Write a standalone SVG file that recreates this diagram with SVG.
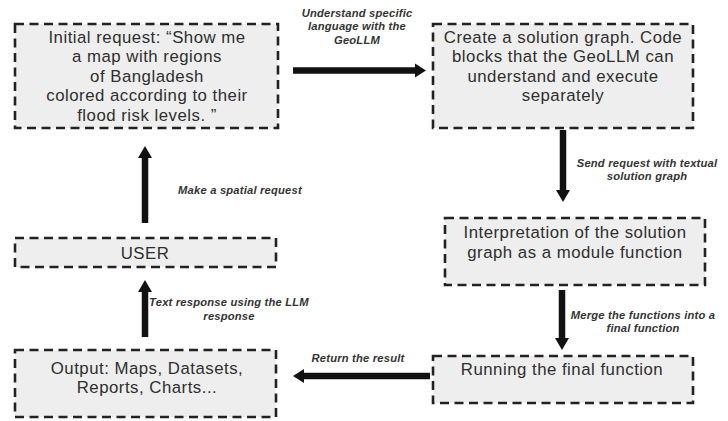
<svg xmlns="http://www.w3.org/2000/svg" width="728" height="421" viewBox="0 0 728 421">
<defs>
<style>
.box{fill:#eeeeee;stroke:#222;stroke-width:2.6;stroke-dasharray:9 5.5}
.t{font-family:"Liberation Sans",Arial,sans-serif;font-size:16.8px;letter-spacing:0.5px;fill:#2e2e2e;text-anchor:middle;dominant-baseline:central}
.l{font-family:"Liberation Sans",Arial,sans-serif;font-size:11.2px;letter-spacing:0.2px;font-style:italic;font-weight:bold;fill:#333;text-anchor:middle;dominant-baseline:central}
.c{stroke:#111;stroke-width:6.5;fill:none}
.h{fill:#111}
</style>
</defs>
<rect width="728" height="421" fill="#ffffff"/>
<g id="n1">
<rect class="box" x="15" y="24" width="263" height="104"/>
<text class="t" x="147" y="37">Initial request: “Show me</text>
<text class="t" x="147" y="56.5">a map with regions</text>
<text class="t" x="147" y="76">of Bangladesh</text>
<text class="t" x="147" y="95.5">colored according to their</text>
<text class="t" x="147" y="115">flood risk levels. ”</text>
</g>
<g id="n2">
<rect class="box" x="433" y="24" width="260" height="104"/>
<text class="t" x="563" y="37">Create a solution graph. Code</text>
<text class="t" x="563" y="56.5">blocks that the GeoLLM can</text>
<text class="t" x="563" y="76">understand and execute</text>
<text class="t" x="563" y="95.5">separately</text>
</g>
<g id="n3">
<rect class="box" x="445" y="218" width="260" height="67"/>
<text class="t" x="575" y="232">Interpretation of the solution</text>
<text class="t" x="575" y="252">graph as a module function</text>
</g>
<g id="n4">
<rect class="box" x="433" y="356" width="260" height="47"/>
<text class="t" x="562" y="369">Running the final function</text>
</g>
<g id="n5">
<rect class="box" x="15" y="350" width="261" height="67"/>
<text class="t" x="147" y="368">Output: Maps, Datasets,</text>
<text class="t" x="147" y="387.5">Reports, Charts...</text>
</g>
<g id="user">
<rect class="box" x="15" y="238" width="261" height="29"/>
<text class="t" x="145" y="253">USER</text>
</g>
<g id="connectors">
<line class="c" x1="293" y1="70.5" x2="417" y2="70.5"/>
<polygon class="h" points="415,63.5 426,70.5 415,77.5"/>
<line class="c" x1="563" y1="130" x2="563" y2="192"/>
<polygon class="h" points="556,190 570,190 563,202"/>
<line class="c" x1="562" y1="290" x2="562" y2="340"/>
<polygon class="h" points="555,338 569,338 562,350"/>
<line class="c" x1="430" y1="376" x2="302" y2="376"/>
<polygon class="h" points="304,369 304,383 293,376"/>
<line class="c" x1="145" y1="337" x2="145" y2="290"/>
<polygon class="h" points="138,292 152,292 145,280"/>
<line class="c" x1="145" y1="223" x2="145" y2="156"/>
<polygon class="h" points="138,158 152,158 145,146"/>
<text class="l" x="357" y="12.5">Understand specific</text>
<text class="l" x="357" y="26">language with the</text>
<text class="l" x="357" y="39.5">GeoLLM</text>
<text class="l" x="647" y="162.5">Send request with textual</text>
<text class="l" x="647" y="176">solution graph</text>
<text class="l" x="643" y="314.5">Merge the functions into a</text>
<text class="l" x="643" y="328">final function</text>
<text class="l" x="358" y="358">Return the result</text>
<text class="l" x="229" y="302">Text response using the LLM</text>
<text class="l" x="229" y="316">response</text>
<text class="l" x="240" y="190">Make a spatial request</text>
</g>
</svg>
